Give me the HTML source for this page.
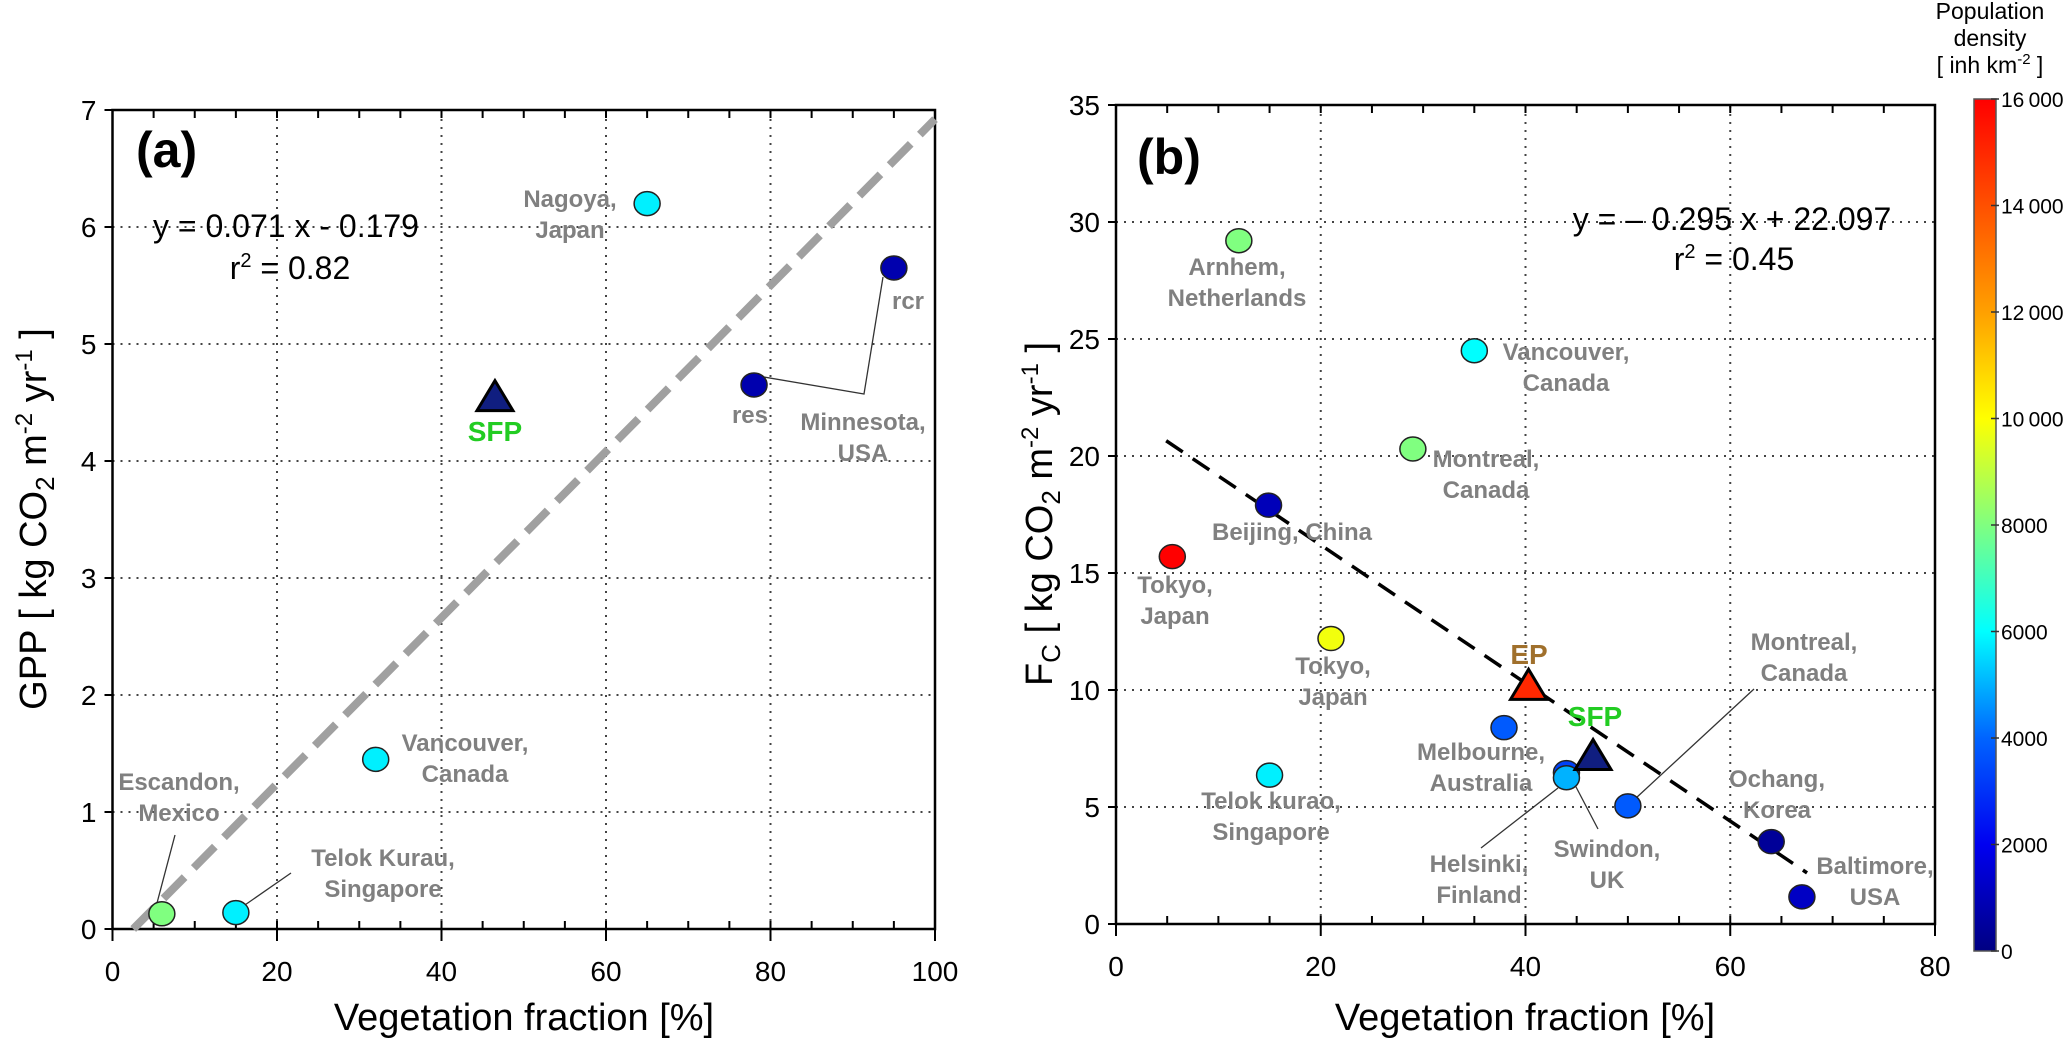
<!DOCTYPE html>
<html><head><meta charset="utf-8"><style>
html,body{margin:0;padding:0;background:#fff;}
svg{display:block;font-family:"Liberation Sans",Arial,sans-serif;}
.lbl{fill:#808080;font-weight:bold;font-size:24px;text-anchor:middle;}
.tick{font-size:28px;fill:#000;}
</style></head><body>
<svg id="fig" width="2067" height="1044" viewBox="0 0 2067 1044"></svg>
<script>
// ---------- Panel (a) data ----------
const aNames = ["Escandon","Telok Kurau","Vancouver","Nagoya","res","rcr"];
const aVeg = [6, 15, 32, 65, 78, 95];
const aGPP = [0.13, 0.14, 1.45, 6.2, 4.65, 5.65];
const aPop = [8000, 5800, 5800, 5800, 800, 800];
const aSFP = [46.5, 4.55];
const aXTicks = [0,20,40,60,80,100];
const aYTicks = [0,1,2,3,4,5,6,7];
const aFit = [0.071, -0.179];
// ---------- Panel (b) data ----------
const bNames = ["Arnhem","Vancouver","Montreal","Beijing","Tokyo1","Tokyo2","Telok kurao","Melbourne","Helsinki","Swindon","Montreal2","Ochang","Baltimore"];
const bVeg = [12, 35, 29, 14.9, 5.5, 21, 15, 37.9, 44, 44, 50, 64, 67];
const bFc = [29.2, 24.5, 20.3, 17.9, 15.7, 12.2, 6.36, 8.39, 6.47, 6.25, 5.05, 3.52, 1.16];
const bPop = [8000, 6000, 8000, 1000, 16000, 9800, 5800, 3800, 3300, 5000, 3800, 400, 1200];
const bEP = [40.3, 10.2, 15000];
const bSFP = [46.6, 7.2];
const bXTicks = [0,20,40,60,80];
const bYTicks = [0,5,10,15,20,25,30,35];
const bFit = [-0.295, 22.097];
const cbTicks = [0,2000,4000,6000,8000,10000,12000,14000,16000];

const NS="http://www.w3.org/2000/svg";
const svg=document.getElementById('fig');
function el(tag,attrs,parent){const e=document.createElementNS(NS,tag);for(const k in attrs)e.setAttribute(k,attrs[k]);(parent||svg).appendChild(e);return e;}
function txt(x,y,s,cls,extra){const t=el('text',Object.assign({x:x,y:y,class:cls||''},extra||{}));t.textContent=s;return t;}

const stops=[[0,[0,0,130]],[2000,[0,0,240]],[4000,[0,100,255]],[6000,[0,255,255]],[8000,[128,255,128]],[10000,[255,255,0]],[12000,[255,160,0]],[14000,[255,80,0]],[16000,[255,0,0]]];
function popColor(p){for(let i=0;i<stops.length-1;i++){const a=stops[i],b=stops[i+1];if(p<=b[0]){const t=(p-a[0])/(b[0]-a[0]);const c=a[1].map((v,j)=>Math.round(v+(b[1][j]-v)*t));return `rgb(${c[0]},${c[1]},${c[2]})`;}}return 'rgb(255,0,0)';}

const A={x0:112.5,x1:935,y0:929,y1:110,xmax:100,ymax:7};
const B={x0:1116,x1:1935,y0:924,y1:105,xmax:80,ymax:35};
const ax=(P,v)=>P.x0+v/P.xmax*(P.x1-P.x0);
const ay=(P,v)=>P.y0-v/P.ymax*(P.y0-P.y1);

function frame(P,xt,yt,minorStep,name){
  const g=el('g',{});
  
  
  xt.forEach(v=>{const x=ax(P,v);if(v>0&&v<P.xmax){el('line',{x1:x,y1:P.y0,x2:x,y2:P.y1,stroke:'#444','stroke-width':2,'stroke-dasharray':'2 6'},g);}
    el('line',{x1:x,y1:P.y0,x2:x,y2:P.y0+12,stroke:'#000','stroke-width':2},g);
    const t=txt(x,P.y0+52,String(v),'tick',{'text-anchor':'middle'});});
  for(let v=minorStep;v<P.xmax;v+=minorStep){const x=ax(P,v);el('line',{x1:x,y1:P.y0,x2:x,y2:P.y0-8,stroke:'#000','stroke-width':2},g);el('line',{x1:x,y1:P.y1,x2:x,y2:P.y1+8,stroke:'#000','stroke-width':2},g);}
  yt.forEach(v=>{const y=ay(P,v);if(v>0&&v<P.ymax){el('line',{x1:P.x0,y1:y,x2:P.x1,y2:y,stroke:'#444','stroke-width':2,'stroke-dasharray':'2 6'},g);}
    el('line',{x1:P.x0-8,y1:y,x2:P.x0,y2:y,stroke:'#000','stroke-width':2},g);
    const t=txt(P.x0-16,y+10,String(v),'tick',{'text-anchor':'end'});});
  el('rect',{x:P.x0,y:P.y1,width:P.x1-P.x0,height:P.y0-P.y1,fill:'none',stroke:'#000','stroke-width':2.5},g);
}
function dot(P,x,y,p,name){const c=el('ellipse',{cx:ax(P,x),cy:ay(P,y),rx:13,ry:12,fill:popColor(p),stroke:'#222','stroke-width':1.5});
  
  }
function tri(P,x,y,fill,name){const cx=ax(P,x),cy=ay(P,y);const t=el('polygon',{points:`${cx-18},${cy+14} ${cx+18},${cy+14} ${cx},${cy-16}`,fill:fill,stroke:'#000','stroke-width':3});
  
  }
function label(x,y,lines,name,cls,fill){lines.forEach((s,i)=>{const t=txt(x,y+i*31,s,cls||'lbl',fill?{fill:fill}:{});});}
function leader(pts){el('polyline',{points:pts,fill:'none',stroke:'#333','stroke-width':1.3});}

// ---------- Panel A ----------
frame(A,aXTicks,aYTicks,5,'panel-a');
{const xs=-aFit[1]/aFit[0];const l=el('line',{x1:ax(A,xs),y1:ay(A,0),x2:ax(A,100),y2:ay(A,aFit[0]*100+aFit[1]),stroke:'#a0a0a0','stroke-width':8,'stroke-dasharray':'30 13'});
 }
leader('175,835 157,903');
leader('291,873 242,907');
leader('752,375 864,394 883,277');
aNames.forEach((n,i)=>dot(A,aVeg[i],aGPP[i],aPop[i],'point-'+n.toLowerCase().replace(/ /g,'-')));
tri(A,aSFP[0],aSFP[1],'#101e80','sfp-triangle-a');
label(179,790,["Escandon,","Mexico"],'label-escandon');
label(383,866,["Telok Kurau,","Singapore"],'label-telok-kurau');
label(465,751,["Vancouver,","Canada"],'label-vancouver');
label(570,207,["Nagoya,","Japan"],'label-nagoya');
label(908,309,["rcr"],'label-rcr');
label(750,423,["res"],'label-res');
label(863,430,["Minnesota,","USA"],'label-minnesota');
{const t=txt(ax(A,aSFP[0]),441,"SFP",'',{'font-size':'28px','font-weight':'bold',fill:'#22cc22','text-anchor':'middle'});}
{const t=txt(136,167,"(a)",'',{'font-size':'50px','font-weight':'bold'});}
{const t=txt(286,237,"y = 0.071 x - 0.179",'',{'font-size':'32px','text-anchor':'middle'});}
{const t=txt(290,279,"",'',{'font-size':'32px','text-anchor':'middle'});t.innerHTML='r<tspan dy="-12" font-size="20">2</tspan><tspan dy="12"> = 0.82</tspan>';}
{const t=txt(0,0,"",'',{'font-size':'38px','text-anchor':'middle',transform:'translate(46,519) rotate(-90)'});t.innerHTML='GPP [ kg CO<tspan dy="8" font-size="26">2</tspan><tspan dy="-8"> m</tspan><tspan dy="-14" font-size="24">-2</tspan><tspan dy="14"> yr</tspan><tspan dy="-14" font-size="24">-1</tspan><tspan dy="14"> ]</tspan>';}
{const t=txt(524,1030,"Vegetation fraction [%]",'',{'font-size':'38px','text-anchor':'middle'});}

// ---------- Panel B ----------
frame(B,bXTicks,bYTicks,5,'panel-b');
{const xa=4.9,xb=67.5;const l=el('line',{x1:ax(B,xa),y1:ay(B,bFit[0]*xa+bFit[1]),x2:ax(B,xb),y2:ay(B,bFit[0]*xb+bFit[1]),stroke:'#000','stroke-width':3.5,'stroke-dasharray':'20 12'});
 }
leader('1481,848 1558,788');
leader('1598,829 1575,785');
leader('1636,798 1754,689');
bNames.forEach((n,i)=>dot(B,bVeg[i],bFc[i],bPop[i],'point-'+n.toLowerCase().replace(/ /g,'-')));
tri(B,bEP[0],bEP[1],popColor(bEP[2]),'ep-triangle');
tri(B,bSFP[0],bSFP[1],'#101e80','sfp-triangle-b');
label(1237,275,["Arnhem,","Netherlands"],'label-arnhem');
label(1566,360,["Vancouver,","Canada"],'label-vancouver-b');
label(1486,467,["Montreal,","Canada"],'label-montreal');
label(1292,540,["Beijing, China"],'label-beijing');
label(1175,593,["Tokyo,","Japan"],'label-tokyo-1');
label(1333,674,["Tokyo,","Japan"],'label-tokyo-2');
label(1271,809,["Telok kurao,","Singapore"],'label-telok-kurao');
label(1481,760,["Melbourne,","Australia"],'label-melbourne');
label(1479,872,["Helsinki,","Finland"],'label-helsinki');
label(1607,857,["Swindon,","UK"],'label-swindon');
label(1804,650,["Montreal,","Canada"],'label-montreal-2');
label(1777,787,["Ochang,","Korea"],'label-ochang');
label(1875,874,["Baltimore,","USA"],'label-baltimore');
{const t=txt(1529,664,"EP",'',{'font-size':'28px','font-weight':'bold',fill:'#a0702c','text-anchor':'middle'});}
{const t=txt(1595,726,"SFP",'',{'font-size':'28px','font-weight':'bold',fill:'#22cc22','text-anchor':'middle'});}
{const t=txt(1137,174,"(b)",'',{'font-size':'50px','font-weight':'bold'});}
{const t=txt(1732,230,"y = \u2013 0.295 x + 22.097",'',{'font-size':'32px','text-anchor':'middle'});}
{const t=txt(1734,270,"",'',{'font-size':'32px','text-anchor':'middle'});t.innerHTML='r<tspan dy="-12" font-size="20">2</tspan><tspan dy="12"> = 0.45</tspan>';}
{const t=txt(0,0,"",'',{'font-size':'38px','text-anchor':'middle',transform:'translate(1052,514) rotate(-90)'});t.innerHTML='F<tspan dy="8" font-size="26">C</tspan><tspan dy="-8"> [ kg CO</tspan><tspan dy="8" font-size="26">2</tspan><tspan dy="-8"> m</tspan><tspan dy="-14" font-size="24">-2</tspan><tspan dy="14"> yr</tspan><tspan dy="-14" font-size="24">-1</tspan><tspan dy="14"> ]</tspan>';}
{const t=txt(1525,1030,"Vegetation fraction [%]",'',{'font-size':'38px','text-anchor':'middle'});}

// ---------- Colorbar ----------
const CB={x:1974,w:22,top:99,bot:951,max:16000};
const defs=el('defs',{});
const grad=el('linearGradient',{id:'cbg',x1:0,y1:1,x2:0,y2:0},defs);
stops.forEach(s=>el('stop',{offset:(s[0]/CB.max),'stop-color':popColor(s[0])},grad));
{const r=el('rect',{x:CB.x,y:CB.top,width:CB.w,height:CB.bot-CB.top,fill:'url(#cbg)',stroke:'#555','stroke-width':1.5});}
cbTicks.forEach(v=>{const y=CB.bot-v/CB.max*(CB.bot-CB.top);
  el('line',{x1:CB.x+CB.w-5,y1:y,x2:CB.x+CB.w+3,y2:y,stroke:'#333','stroke-width':1.5});
  const s=v>=10000?String(v).slice(0,2)+'\u2009'+String(v).slice(2):String(v);
  const t=txt(CB.x+CB.w+5,y+8,s,'',{'font-size':'21px'});});
{const t=txt(1990,19,"Population",'',{'font-size':'23px','text-anchor':'middle'});}
{const t=txt(1990,46,"density",'',{'font-size':'23px','text-anchor':'middle'});}
{const t=txt(1990,73,"",'',{'font-size':'23px','text-anchor':'middle'});t.innerHTML='[ inh km<tspan dy="-9" font-size="15">-2</tspan><tspan dy="9"> ]</tspan>';}
</script>
</body></html>
